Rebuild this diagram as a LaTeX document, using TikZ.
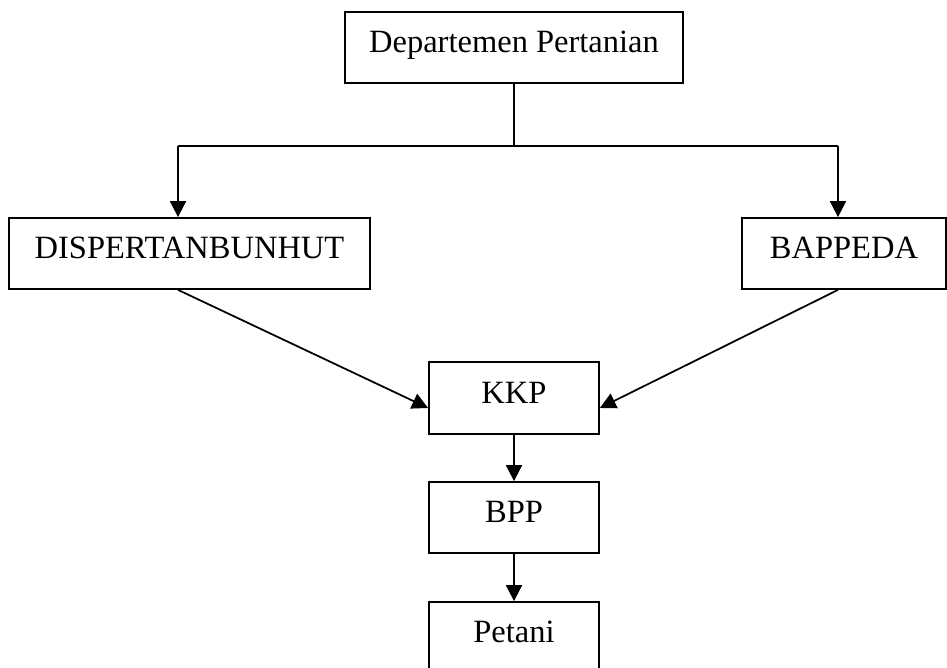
\documentclass[tikz,border=0pt]{standalone}
\usepackage{fontspec}
\setmainfont{Liberation Serif}
\usetikzlibrary{arrows.meta}

\begin{document}
\begin{tikzpicture}[x=0.02cm, y=-0.02cm,
    box/.style={rectangle, draw=black, line width=1pt, minimum height=1.42cm, text height=0.42cm, text depth=0.2cm, font=\fontsize{18.5}{22}\selectfont},
    arrow/.style={-{Triangle[length=0.32cm,width=0.32cm]}, line width=1pt}
]
    \clip (0,0) rectangle (947,668);

    \node[box, minimum width=6.76cm] (dept) at (514,47.5) {Departemen Pertanian};
    \node[box, minimum width=7.22cm] (dinas) at (189.5,253.5) {DISPERTANBUNHUT};
    \node[box, minimum width=4.08cm] (bappeda) at (844,253.5) {BAPPEDA};
    \node[box, minimum width=3.40cm, minimum height=1.44cm] (kkp) at (514,398) {KKP};
    \node[box, minimum width=3.40cm] (bpp) at (514,517.5) {BPP};
    \node[box, minimum width=3.40cm] (petani) at (514,637.5) {Petani};

    \coordinate (split) at (514,146);
    \coordinate (splitL) at (178,146);
    \coordinate (splitR) at (838,146);

    \draw[line width=1pt] (dept.south) -- (split);
    \draw[line width=1pt] (splitL) -- (splitR);
    \draw[arrow] (splitL) -- (splitL |- dinas.north);
    \draw[arrow] (splitR) -- (splitR |- bappeda.north);

    \draw[arrow] (splitL |- dinas.south) -- ([yshift=-0.2cm]kkp.west);
    \draw[arrow] (splitR |- bappeda.south) -- ([yshift=-0.2cm]kkp.east);
    \draw[arrow] (kkp) -- (bpp);
    \draw[arrow] (bpp) -- (petani);
\end{tikzpicture}
\end{document}
